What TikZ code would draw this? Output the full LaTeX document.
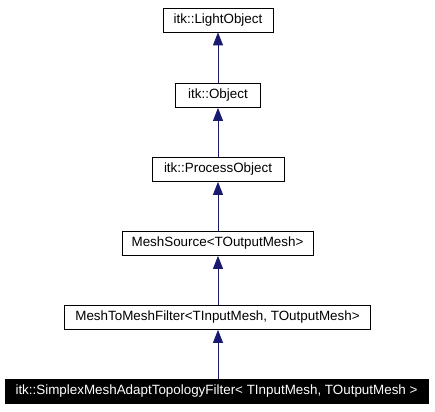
\documentclass[tikz,border=0pt]{standalone}
\usepackage{fontspec}
\setmainfont{Liberation Sans}
\usepackage{xcolor}
\usetikzlibrary{shapes, positioning, arrows.meta}

\definecolor{edgeblue}{HTML}{191970}

\tikzset{
    cls/.style={draw, thick, minimum height=24pt, inner sep=0pt, font=\fontsize{13.4}{16}\selectfont},
    current/.style={cls, fill=black, text=white},
    inherit/.style={{Triangle[width=10pt, length=13pt]}-, edgeblue, thick}
}

\begin{document}
\begin{tikzpicture}[x=1pt, y=-1pt]
        \useasboundingbox (0, 0) rectangle (435, 411);

        \node[cls, minimum width=110pt] (light) at (218, 20) {itk::LightObject};
        \node[cls, minimum width=85pt] (object) at (218, 95.5) {itk::Object};
        \node[cls, minimum width=132pt] (process) at (218, 169.5) {itk::ProcessObject};
        \node[cls, minimum width=191pt] (source) at (217.5, 243.5) {MeshSource<TOutputMesh>};
        \node[cls, minimum width=306pt] (filter) at (217.5, 317.5) {MeshToMeshFilter<TInputMesh, TOutputMesh>};
        \node[current, minimum width=423pt] (adapt) at (216.5, 391) {itk::SimplexMeshAdaptTopologyFilter< TInputMesh, TOutputMesh >};

        \draw[inherit] (light.south -| 218, 0) -- (object.north -| 218, 0);
        \draw[inherit] (object.south -| 218, 0) -- (process.north -| 218, 0);
        \draw[inherit] (process.south -| 218, 0) -- (source.north -| 218, 0);
        \draw[inherit] (source.south -| 218, 0) -- (filter.north -| 218, 0);
        \draw[inherit] (filter.south -| 218, 0) -- (adapt.north -| 218, 0);
    \end{tikzpicture}
\end{document}
